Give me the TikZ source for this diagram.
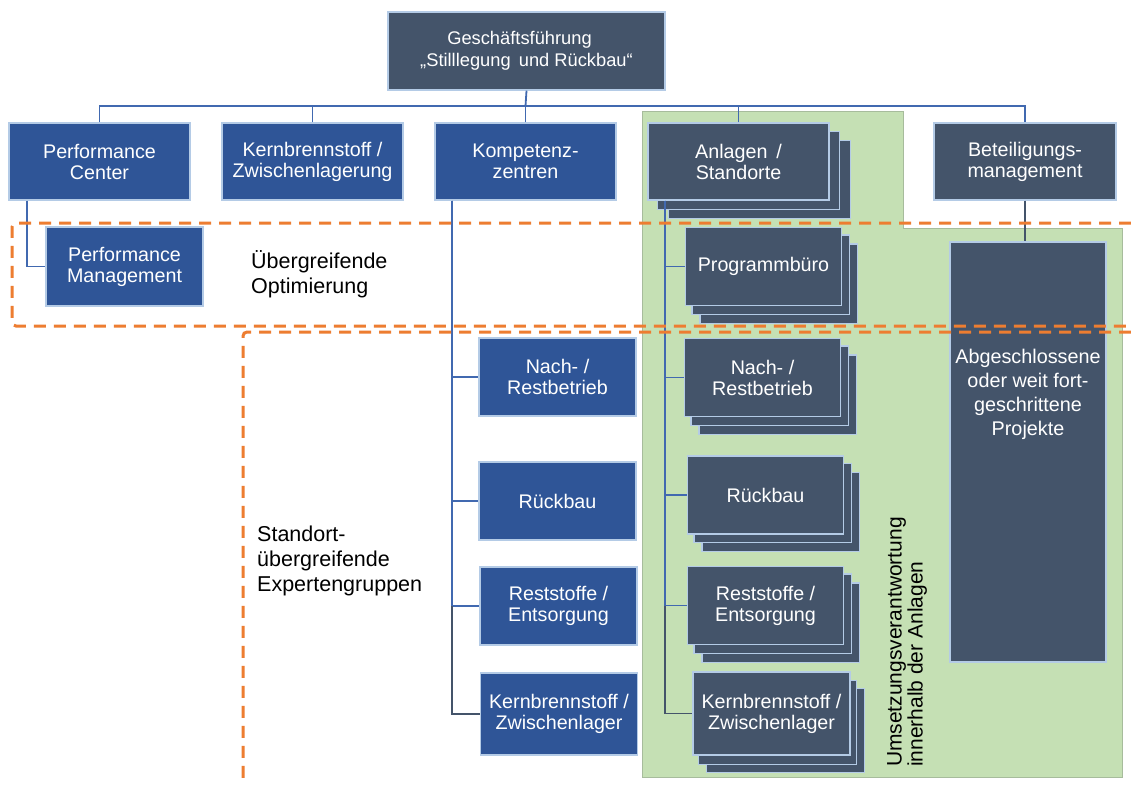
\documentclass[tikz,border=0pt]{standalone}
\usepackage{fontspec}
\setmainfont{Liberation Sans}
\definecolor{slate}{HTML}{44546A}
\definecolor{bluebox}{HTML}{2F5597}
\definecolor{boxline}{HTML}{B4CBE6}
\definecolor{connblue}{HTML}{4169B0}
\definecolor{greenbg}{HTML}{C5E0B4}
\definecolor{greenline}{HTML}{A7BC9C}
\definecolor{orangeD}{HTML}{ED7D31}
\pgfdeclarelayer{green}
\pgfdeclarelayer{stackb}
\pgfdeclarelayer{stacka}
\pgfdeclarelayer{fg}
\pgfsetlayers{green,stackb,stacka,main,fg}
\newcommand\stk[3]{%
  \begin{pgfonlayer}{stackb}\draw[sbox] ([shift={#3}]#1.south west) rectangle ([shift={#3}]#1.north east);\end{pgfonlayer}
  \begin{pgfonlayer}{stacka}\draw[sbox] ([shift={#2}]#1.south west) rectangle ([shift={#2}]#1.north east);\end{pgfonlayer}}
\begin{document}
\begin{tikzpicture}[x=1pt,y=-1pt,
 bx/.style={draw=boxline, line width=1.4pt, text=white, align=center, inner sep=0pt, font=\fontsize{19.7}{21}\selectfont},
 dbox/.style={bx, fill=slate},
 bbox/.style={bx, fill=bluebox},
 sbox/.style={draw=boxline, line width=1.4pt, fill=slate},
 conn/.style={draw=connblue, line width=1.8pt},
 connd/.style={draw=slate, line width=1.8pt},
 odash/.style={draw=orangeD, line width=3pt, dash pattern=on 12pt off 8pt, rounded corners=4pt},
 lbl/.style={align=left, inner sep=0pt, text=black, font=\fontsize{21.5}{25}\selectfont},
 wtxt/.style={align=center, inner sep=0pt, text=white, font=\fontsize{19.8}{24}\selectfont}]
\begin{pgfonlayer}{green}
\fill[white] (0,0) rectangle (1131,785);
\filldraw[fill=greenbg, draw=greenline, line width=1pt] (642,111) -- (903,111) -- (903,228) -- (1122,228) -- (1122,777) -- (642,777) -- cycle;
\end{pgfonlayer}
\useasboundingbox (0,0) rectangle (1131,785);

% top
\node[dbox, minimum width=277, minimum height=78, font=\fontsize{18.3}{22}\selectfont] (gf) at (526.5,51) {Geschäftsführung\hspace*{14pt}\\„Stilllegung~\,und Rückbau“};

% level 2
\node[bbox, minimum width=181, minimum height=77] (pc) at (99.5,161.5) {Performance\\Center};
\node[bbox, minimum width=181, minimum height=77] (kb) at (312.5,161.5) {Kernbrennstoff /\\Zwischenlagerung};
\node[bbox, minimum width=181, minimum height=77] (kz) at (525.5,161.5) {Kompetenz-\\zentren};
\node[dbox, minimum width=181, minimum height=77] (an) at (738.5,161.5) {Anlagen~\,/\\Standorte};
\stk{an}{(10,9)}{(21,18)}
\node[dbox, minimum width=182, minimum height=77] (bm) at (1025,161.5) {Beteiligungs-\\management};

\node[bbox, minimum width=157, minimum height=79] (pm) at (124.5,266.5) {Performance\\Management};

% Kompetenzzentren
\node[bbox, minimum width=157, minimum height=78] (k1) at (557.5,377) {Nach- /\\Restbetrieb};
\node[bbox, minimum width=157, minimum height=78] (k2) at (557.5,501) {Rückbau};
\node[bbox, minimum width=157, minimum height=78] (k3) at (558.5,606) {Reststoffe /\\Entsorgung};
\node[bbox, minimum width=157, minimum height=82] (k4) at (559,714) {Kernbrennstoff /\\Zwischenlager};

% Anlagen
\node[dbox, minimum width=156, minimum height=78] (a1) at (763.5,266.5) {Programmbüro};
\stk{a1}{(7,8)}{(15,17)}
\node[dbox, minimum width=156, minimum height=78] (a2) at (762.5,377.5) {Nach- /\\Restbetrieb};
\stk{a2}{(7,8)}{(15,17)}
\node[dbox, minimum width=156, minimum height=78] (a3) at (765.5,495) {Rückbau};
\stk{a3}{(7,8)}{(15,17)}
\node[dbox, minimum width=156, minimum height=78] (a4) at (765.5,605.5) {Reststoffe /\\Entsorgung};
\stk{a4}{(7,8)}{(15,17)}
\node[dbox, minimum width=157, minimum height=83] (a5) at (771.5,713.5) {Kernbrennstoff /\\Zwischenlager};
\stk{a5}{(6,9)}{(14,17)}

% big box
\node[dbox, minimum width=156, minimum height=420] (pro) at (1028,452) {};
\node[wtxt, anchor=north] (protxt) at (1028,349) {Abgeschlossene\\oder weit fort-\\geschrittene\\Projekte};

% connectors
\coordinate (bus) at (525.5,106);
\draw[conn] (gf.south) -- (bus);
\draw[conn] (pc.north) |- (bus) -| (bm.north);
\draw[conn] (kb.north) -- (kb.north |- bus);
\draw[conn] (kz.north) -- (kz.north |- bus);
\draw[conn] (an.north) -- (an.north |- bus);
\draw[conn] ([xshift=19pt]pc.south west) |- (pm.west);

\coordinate (kt) at ([xshift=18pt]kz.south west);
\draw[conn] (kt) |- (k1.west);
\draw[conn] (kt) |- (k2.west);
\draw[conn] (kt) |- (k3.west);
\draw[connd] (kt |- k3.west) |- (k4.west);

\coordinate (at) at ([xshift=18pt]an.south west);
\draw[conn] (at) |- (a1.west);
\draw[conn] (at) |- (a2.west);
\draw[conn] (at) |- (a3.west);
\draw[conn] (at) |- (a4.west);
\draw[connd] (at |- a4.west) |- (a5.west);

\draw[connd] (bm.south) -- (bm.south |- pro.north);

% labels
\node[lbl, anchor=west] (uo) at (251,274.5) {Übergreifende\\Optimierung};
\node[lbl, anchor=west] (se) at (257,561) {Standort-\\übergreifende\\Expertengruppen};
\node[lbl, rotate=90, font=\fontsize{21}{21}\selectfont] (uv) at (907,642) {Umsetzungsverantwortung\\innerhalb der Anlagen};

% orange dashed
\begin{pgfonlayer}{fg}
\draw[odash] (1131,223) -- (12,223) -- (12,326) -- (1131,326);
\draw[odash] (1131,332) -- (243,332) -- (243,785);
\end{pgfonlayer}
\end{tikzpicture}
\end{document}
